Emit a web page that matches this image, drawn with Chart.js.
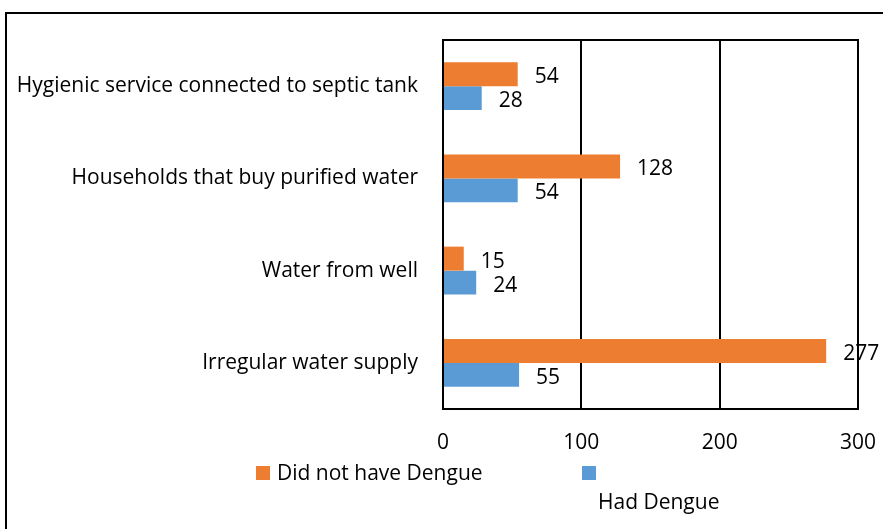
<!DOCTYPE html>
<html>
<head>
<meta charset="utf-8">
<script src="https://cdn.jsdelivr.net/npm/chart.js@4.4.1/dist/chart.umd.min.js"></script>
<style>
  html, body { margin: 0; padding: 0; background: #fff; overflow: hidden; }
  #wrap { position: relative; width: 883px; height: 529px; }
  #frame { position: absolute; left: 5px; top: 12px; width: 1000px; height: 1000px; border: 2px solid #000; box-sizing: border-box; }
  canvas { position: absolute; left: 0; top: 0; }
</style>
</head>
<body>
<div id="wrap">
  <div id="frame"></div>
  <canvas id="c" width="883" height="529"></canvas>
</div>
<script>
const categories = [
  "Hygienic service connected to septic tank",
  "Households that buy purified water",
  "Water from well",
  "Irregular water supply"
];
const seriesNames = ["Did not have Dengue", "Had Dengue"];
const didNotHaveDengue = [54, 128, 15, 277];
const hadDengue = [28, 54, 24, 55];
const xTicks = [0, 100, 200, 300];

const FONT = "'Open Sans', sans-serif";
const FS = 21;
const ORANGE = "#ED7D31";
const BLUE = "#5B9BD5";

const valueLabels = {
  id: "valueLabels",
  afterDatasetsDraw(chart) {
    const ctx = chart.ctx;
    ctx.save();
    ctx.font = FS + "px " + FONT;
    ctx.fillStyle = "#000";
    ctx.textAlign = "left";
    ctx.textBaseline = "middle";
    chart.data.datasets.forEach((ds, di) => {
      const meta = chart.getDatasetMeta(di);
      meta.data.forEach((bar, i) => {
        ctx.fillText(String(ds.data[i]), bar.x + 17, bar.y + 3);
      });
    });
    ctx.restore();
  }
};

const plotBox = {
  id: "plotBox",
  afterDraw(chart) {
    const a = chart.chartArea;
    const ctx = chart.ctx;
    ctx.save();
    ctx.strokeStyle = "#000";
    ctx.lineWidth = 2;
    ctx.strokeRect(a.left, a.top, a.right - a.left, a.bottom - a.top);
    ctx.restore();
  }
};

const customLegend = {
  id: "customLegend",
  afterDraw(chart) {
    const ctx = chart.ctx;
    const pos = [
      { bx: 256, by: 466, tx: 277, ty: 474 },
      { bx: 582, by: 466, tx: 598, ty: 503 }
    ];
    ctx.save();
    ctx.font = FS + "px " + FONT;
    ctx.textAlign = "left";
    ctx.textBaseline = "middle";
    chart.data.datasets.forEach((ds, i) => {
      const p = pos[i];
      ctx.fillStyle = ds.backgroundColor;
      ctx.fillRect(p.bx, p.by, 14, 14);
      ctx.fillStyle = "#000";
      ctx.fillText(ds.label, p.tx, p.ty);
    });
    ctx.restore();
  }
};

new Chart(document.getElementById("c"), {
  type: "bar",
  data: {
    labels: categories,
    datasets: [
      { label: seriesNames[0], data: didNotHaveDengue, backgroundColor: ORANGE, borderWidth: 0,
        categoryPercentage: 0.52, barPercentage: 1.0 },
      { label: seriesNames[1], data: hadDengue, backgroundColor: BLUE, borderWidth: 0,
        categoryPercentage: 0.52, barPercentage: 1.0 }
    ]
  },
  options: {
    indexAxis: "y",
    responsive: false,
    animation: false,
    devicePixelRatio: 1,
    layout: { padding: { top: 40, right: 25, bottom: 0, left: 0 } },
    plugins: { legend: { display: false }, tooltip: { enabled: false } },
    scales: {
      x: {
        min: 0, max: 300,
        afterBuildTicks(scale) { scale.ticks = xTicks.map(v => ({ value: v })); },
        grid: { color: "#000", lineWidth: 2, drawTicks: false },
        border: { color: "#000", width: 2 },
        ticks: { color: "#000", font: { family: FONT, size: FS }, padding: 21, maxRotation: 0 },
        afterFit(scale) { scale.height = 120; scale.paddingRight = 0; scale.paddingLeft = 0; }
      },
      y: {
        grid: { display: false, drawTicks: false },
        border: { color: "#000", width: 2 },
        ticks: { color: "#000", font: { family: FONT, size: FS }, padding: 25 },
        afterFit(scale) { scale.width = 443; }
      }
    }
  },
  plugins: [valueLabels, plotBox, customLegend]
});
</script>
</body>
</html>
